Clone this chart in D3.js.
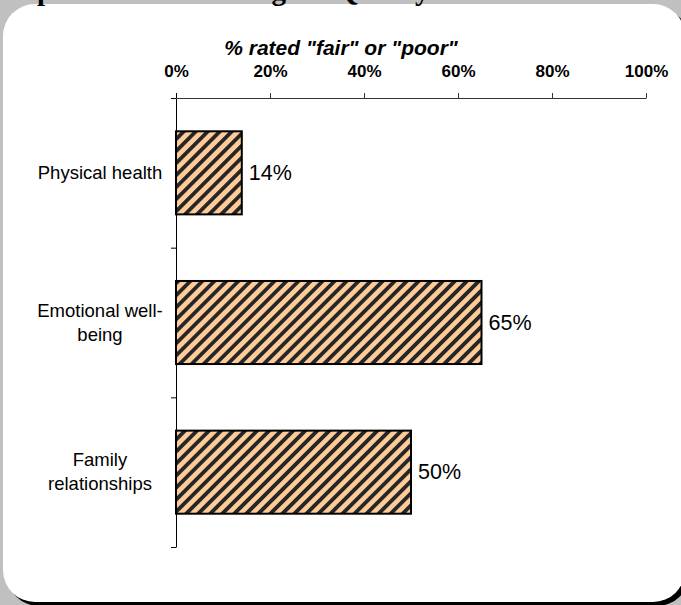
<!DOCTYPE html>
<html>
<head>
<meta charset="utf-8">
<script src="https://cdn.jsdelivr.net/npm/d3@7"></script>
<style>
  body { margin: 0; background: #c0c0c0; }
  svg { display: block; }
  text { font-family: "Liberation Sans", Arial, sans-serif; }
</style>
</head>
<body>
<svg id="chart" width="681" height="605"></svg>
<script>
// data
var categories = [["Physical health"], ["Emotional well-", "being"], ["Family", "relationships"]];
var values = [14, 65, 50];
var xTicks = [0, 20, 40, 60, 80, 100];
var axisTitle = '% rated "fair" or "poor"';
var chartTitle = "Respondent Self-Ratings of Quality of Life";

var W = 681, H = 605;
var svg = d3.select("#chart");

// panel + shadow
svg.append("rect").attr("x", 7).attr("y", 8).attr("width", 682).attr("height", 598)
    .attr("rx", 32).attr("fill", "#000");
svg.append("rect").attr("x", 3).attr("y", 4).attr("width", 682).attr("height", 598)
    .attr("rx", 32).attr("fill", "#fff");

// title, mostly cut off at top (as in the source)
svg.append("text").attr("x", -8).attr("y", 0)
    .style("font-family", "'Liberation Serif', 'Times New Roman', serif")
    .style("font-weight", "bold").style("font-size", "29px")
    .attr("fill", "#000").text(chartTitle);

// hatch
var defs = svg.append("defs");
var pat = defs.append("pattern").attr("id", "hatch")
    .attr("patternUnits", "userSpaceOnUse")
    .attr("width", 8.5).attr("height", 8.5)
    .attr("patternTransform", "rotate(45)");
pat.append("rect").attr("width", 8.5).attr("height", 8.5).attr("fill", "#ffcc99");
pat.append("rect").attr("x", 0).attr("width", 3.8).attr("height", 8.5).attr("fill", "#262626");

var x = d3.scaleLinear().domain([0, 100]).range([176, 646]);
var y = d3.scaleBand().domain(d3.range(categories.length))
    .range([98, 547]).paddingInner(0.445).paddingOuter(0.2225);

// x axis on top
var gx = svg.append("g").attr("transform", "translate(0,98)")
    .call(d3.axisTop(x).tickValues(xTicks).tickSize(5).tickSizeOuter(0)
        .tickPadding(16).tickFormat(function(d){ return d + "%"; }));
gx.select(".domain").attr("stroke", "#333");
gx.selectAll(".tick line").attr("stroke", "#333");
gx.selectAll(".tick text")
    .style("font-family", "'Liberation Sans', Arial, sans-serif")
    .style("font-size", "17px").style("font-weight", "bold").attr("fill", "#000");

// left axis with ticks at band edges
var edges = d3.range(categories.length + 1).map(function(i){ return y.range()[0] + i * y.step(); });
var yEdge = d3.scaleLinear().domain([y.range()[0], y.range()[1]]).range([y.range()[0], y.range()[1]]);
var gy = svg.append("g").attr("transform", "translate(176,0)")
    .call(d3.axisLeft(yEdge).tickValues(edges).tickSize(5).tickSizeOuter(0).tickFormat(""));
gy.select(".domain").attr("stroke", "#000");
gy.selectAll(".tick line").attr("stroke", "#000");
// small extension of y axis above the x axis line
svg.append("line").attr("x1", 176.5).attr("x2", 176.5).attr("y1", 93).attr("y2", 98).attr("stroke", "#000");

// axis title
svg.append("text").attr("x", 341).attr("y", 55).attr("text-anchor", "middle")
    .style("font-size", "21px").style("font-weight", "bold").style("font-style", "italic")
    .text(axisTitle);

// bars
svg.selectAll(".bar").data(values).enter().append("rect")
    .attr("class", "bar")
    .attr("x", x(0))
    .attr("y", function(d, i){ return y(i); })
    .attr("width", function(d){ return x(d) - x(0); })
    .attr("height", y.bandwidth())
    .attr("fill", "url(#hatch)")
    .attr("stroke", "#000").attr("stroke-width", 2);

// value labels
svg.selectAll(".val").data(values).enter().append("text")
    .attr("class", "val")
    .attr("x", function(d){ return x(d) + 7; })
    .attr("y", function(d, i){ return y(i) + y.bandwidth() / 2 + 7; })
    .style("font-size", "21.5px").attr("fill", "#000")
    .text(function(d){ return d + "%"; });

// category labels
categories.forEach(function(lines, i) {
    var cy = y(i) + y.bandwidth() / 2;
    var t = svg.append("text").attr("text-anchor", "middle")
        .style("font-size", "18.5px").attr("fill", "#000");
    var start = cy + 6 - (lines.length - 1) * 12;
    lines.forEach(function(s, k) {
        t.append("tspan").attr("x", 100).attr("y", start + k * 24).text(s);
    });
});
</script>
</body>
</html>
